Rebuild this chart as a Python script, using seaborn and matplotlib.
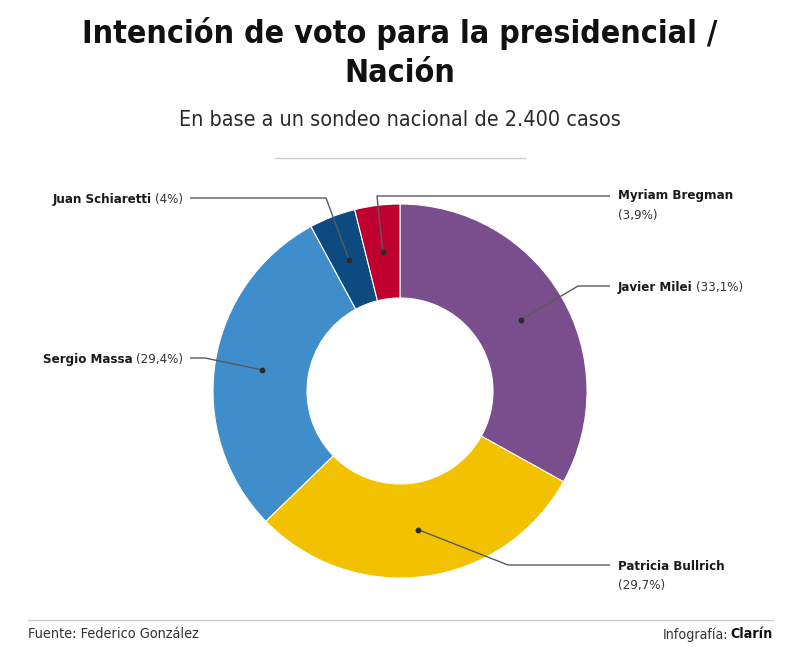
import matplotlib
matplotlib.use("Agg")
import numpy as np
import matplotlib.pyplot as plt
import seaborn as sns

# Poll data (clockwise from top)
candidates = ["Javier Milei", "Patricia Bullrich", "Sergio Massa", "Juan Schiaretti", "Myriam Bregman"]
shares = [33.1, 29.7, 29.4, 4.0, 3.9]
share_labels = ["(33,1%)", "(29,7%)", "(29,4%)", "(4%)", "(3,9%)"]
colors = ["#7A4E8D", "#F2C200", "#3F8DCA", "#0C4A80", "#C0002F"]

title_1 = "Intención de voto para la presidencial /"
title_2 = "Nación"
subtitle = "En base a un sondeo nacional de 2.400 casos"
source = "Fuente: Federico González"

W, H = 800, 664
CX, CY, R, RING = 400, 391, 187, 94

# label layout in pixel coords: (elbow, line end, text anchor, side, two lines)
layout = {
    "Javier Milei": ((578, 286), (610, 286), (618, 286), "right", False),
    "Patricia Bullrich": ((508, 565), (610, 565), (618, 565), "right", True),
    "Sergio Massa": ((205, 358), (190, 358), (183, 359), "left", False),
    "Juan Schiaretti": ((326, 198), (190, 198), (183, 198), "left", False),
    "Myriam Bregman": ((377, 196), (610, 196), (618, 195), "right", True),
}

sns.set_theme(style="white")
plt.rcParams["font.family"] = ["DejaVu Sans"]
plt.rcParams["font.stretch"] = "condensed"

fig = plt.figure(figsize=(8, 6.64), dpi=100)
ax = fig.add_axes([0, 0, 1, 1])

wedges, _ = ax.pie(shares, colors=colors, startangle=90, counterclock=False,
                   center=(CX, H - CY), radius=R,
                   wedgeprops=dict(width=RING, edgecolor="white", linewidth=0.8))
ax.set_xlim(0, W)
ax.set_ylim(0, H)
ax.set_aspect("equal")
ax.axis("off")

fig.canvas.draw()
renderer = fig.canvas.get_renderer()
inv = ax.transData.inverted()


def text_width(t):
    bb = t.get_window_extent(renderer=renderer)
    p0 = inv.transform((bb.x0, bb.y0))
    p1 = inv.transform((bb.x1, bb.y1))
    return p1[0] - p0[0]


lab_size = 9.5
base = 4.5  # baseline offset below the visual text centre
for w, name, pct in zip(wedges, candidates, share_labels):
    mid = np.deg2rad((w.theta1 + w.theta2) / 2)
    r = R - RING / 2
    dx, dy = CX + r * np.cos(mid), (H - CY) + r * np.sin(mid)
    elbow, end, anchor, side, two = layout[name]
    ax.plot([dx, elbow[0], end[0]], [dy, H - elbow[1], H - end[1]],
            color="#5a5a5a", lw=1, solid_capstyle="butt")
    ax.plot(dx, dy, "o", color="#2a2a2a", ms=3.2)
    tx, ty = anchor[0], H - anchor[1] - base
    if side == "right":
        t = ax.text(tx, ty, name, fontsize=lab_size, fontweight="bold",
                    color="#1a1a1a", ha="left", va="baseline")
        if two:
            ax.text(tx, ty - 19, pct, fontsize=lab_size, color="#333333",
                    ha="left", va="baseline")
        else:
            ax.text(tx + text_width(t) + 3, ty, pct, fontsize=lab_size,
                    color="#333333", ha="left", va="baseline")
    else:
        p = ax.text(tx, ty, pct, fontsize=lab_size, color="#333333",
                    ha="right", va="baseline")
        ax.text(tx - text_width(p) - 3, ty, name, fontsize=lab_size,
                fontweight="bold", color="#1a1a1a", ha="right", va="baseline")

# titles
ax.text(W / 2, H - 33, title_1, fontsize=23, fontweight="bold", color="#111111",
        ha="center", va="center")
ax.text(W / 2, H - 73, title_2, fontsize=23, fontweight="bold", color="#111111",
        ha="center", va="center")
ax.text(W / 2, H - 120, subtitle, fontsize=15.5, color="#2a2a2a",
        ha="center", va="center")
ax.plot([275, 525], [H - 158, H - 158], color="#cccccc", lw=1)

# footer
ax.plot([28, 773], [H - 620, H - 620], color="#cccccc", lw=1)
fy = H - 634 - base
ax.text(28, fy, source, fontsize=10.4, color="#333333", ha="left", va="baseline")
c = ax.text(773, fy, "Clarín", fontsize=10.2, fontweight="bold", color="#111111",
            ha="right", va="baseline")
ax.text(773 - text_width(c) - 3, fy, "Infografía:", fontsize=10.2, color="#333333",
        ha="right", va="baseline")

fig.savefig("out.png", dpi=100, facecolor="white")
